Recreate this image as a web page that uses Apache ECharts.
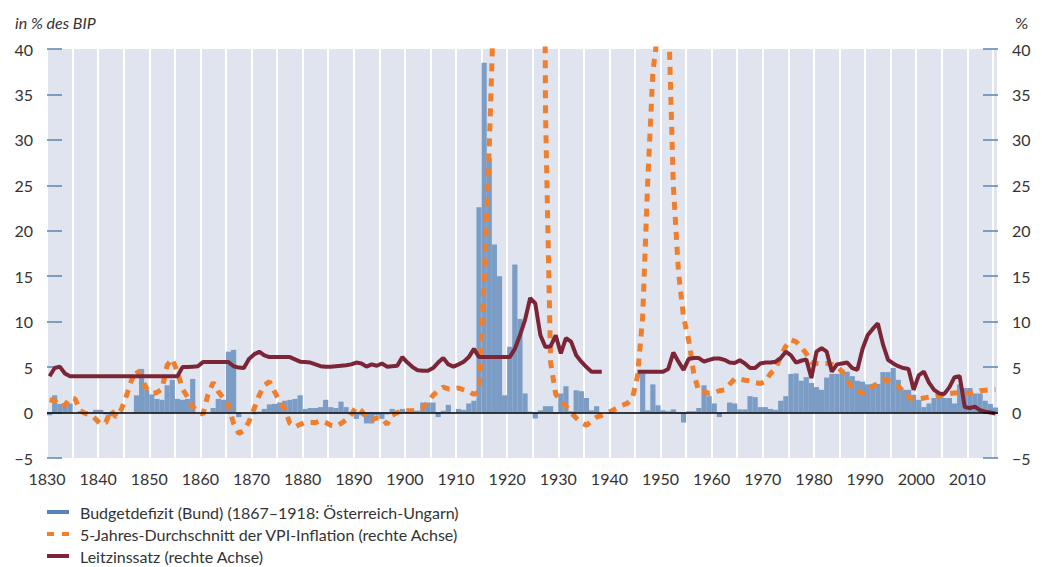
<!DOCTYPE html>
<html>
<head>
<meta charset="utf-8">
<script src="https://cdn.jsdelivr.net/npm/echarts@6/dist/echarts.min.js"></script>
<style>
  html, body { margin: 0; padding: 0; background: #fff; }
  #chart { width: 1042px; height: 567px; }
</style>
</head>
<body>
<div id="chart"></div>
<script>
// Jahre 1830–2015
const years = [];
for (let y = 1830; y <= 2015; y++) years.push(y);

// Budgetdefizit in % des BIP (linke Achse), ein Wert pro Jahr
const deficit = [
  -0.3, 1.9, 0.95, 0.9, 1.0, 0.0, 0.15, 0.15, 0.05, 0.3,
  0.3, -0.2, -0.4, -0.2, 0.05, 0.0, 0.0, 1.9, 4.8, 2.5,
  2.0, 1.5, 1.4, 3.0, 3.6, 1.5, 1.4, 1.5, 3.7, 0.0,
  0.0, 0.0, 0.5, 1.5, 1.4, 6.7, 6.9, -0.5, 0.0, 0.0,
  -0.2, 0.1, 0.4, 0.9, 0.95, 1.1, 1.3, 1.4, 1.5, 1.9,
  0.4, 0.5, 0.5, 0.6, 1.4, 0.6, 0.5, 1.2, 0.6, -0.25,
  -0.7, -0.3, -1.2, -1.2, -0.3, -0.7, -0.2, 0.4, 0.2, 0.4,
  0.1, 0.2, 0.2, 1.1, 1.1, 1.1, -0.5, 0.2, 0.85, 0.0,
  0.4, 0.3, 1.0, 1.3, 22.6, 38.5, 28.0, 18.5, 15.0, 1.9,
  7.25, 16.3, 10.3, 2.1, 0.1, -0.65, 0.25, 0.7, 0.7, -0.1,
  2.1, 2.9, 0.15, 2.45, 2.35, 1.6, 0.25, 0.7, null, null,
  null, null, null, null, null, null, 4.3, 0.25, 3.1, 0.8,
  0.25, 0.15, 0.35, -0.1, -1.1, 0.15, 0.15, 0.5, 3.0, 1.8,
  1.0, -0.5, 0.05, 1.1, 1.0, 0.35, 0.35, 1.8, 1.7, 0.6,
  0.6, 0.4, 0.3, 1.3, 1.8, 4.25, 4.3, 3.5, 3.9, 3.25,
  2.8, 2.5, 3.85, 4.25, 4.25, 4.75, 4.5, 4.0, 3.5, 3.4,
  3.1, 3.15, 3.15, 4.45, 4.45, 4.9, 3.6, 2.5, 2.5, 1.95,
  1.4, 0.6, 1.0, 1.6, 1.95, 1.6, 1.6, 1.0, 3.1, 2.7,
  2.7, 2.1, 2.1, 1.3, 0.95, 0.55
];

// 5-Jahres-Durchschnitt der VPI-Inflation in % (rechte Achse)
const inflation = [
  1.4, 1.3, 0.7, 0.8, 1.6, 1.5, 0.2, -0.1, -0.25, -0.7,
  -1.3, -1.1, 0.3, -0.5, 0.3, 1.8, 3.5, 4.7, 3.8, 2.6,
  2.1, 2.2, 2.6, 5.2, 5.9, 4.5, 2.6, 1.7, 0.6, 0.2,
  -0.2, 2.0, 3.3, 2.3, 1.6, 0.8, -1.2, -2.3, -2.0, -1.0,
  0.4, 1.9, 3.0, 3.4, 2.3, 1.2, 0.4, -1.2, -1.6, -1.3,
  -1.1, -1.1, -1.1, -0.9, -1.1, -1.4, -1.5, -1.2, -0.8, -0.2,
  0.6, 0.2, -0.6, -0.8, -0.6, -0.6, -1.3, -0.3, 0.0, 0.2,
  0.2, 0.2, 0.3, 0.5, 1.1, 1.9, 2.4, 2.8, 2.6, 2.6,
  2.7, 2.5, 2.3, 2.0, 2.3, 14.5, 29.2, 47, 150, 400,
  700, 1000, 1200, 900, 600, 350, 150, 33, 5.5, 2.0,
  1.3, 0.7, 0.0, -0.6, -1.1, -1.4, -0.9, -0.5, -0.3, 0.0,
  0.2, 0.5, 0.8, 1.0, 1.6, 4.0, 10.5, 25.5, 37.5, 42,
  90, 45, 25, 15.5, 10.5, 8.0, 4.3, 2.3, 2.3, 2.1,
  2.2, 2.4, 2.5, 3.1, 3.7, 3.7, 3.55, 3.5, 3.3, 3.2,
  3.4, 4.3, 4.8, 6.2, 7.3, 8.0, 7.8, 7.2, 6.5, 5.5,
  5.4, 5.4, 5.4, 5.3, 5.1, 4.5, 3.6, 2.6, 2.4, 2.1,
  2.4, 2.9, 3.2, 3.6, 3.5, 3.3, 2.9, 2.3, 1.7, 1.45,
  1.5, 1.6, 1.7, 1.75, 1.85, 1.9, 2.1, 2.15, 2.2, 2.2,
  2.1, 2.2, 2.4, 2.45, 2.5, 2.55
];

// Leitzinssatz in % (rechte Achse)
const rate = [
  4.0, 4.9, 5.05, 4.3, 4.0, 4.0, 4.0, 4.0, 4.0, 4.0,
  4.0, 4.0, 4.0, 4.0, 4.0, 4.0, 4.0, 4.0, 4.0, 4.0,
  4.0, 4.0, 4.0, 4.0, 4.0, 4.0, 5.0, 5.0, 5.05, 5.1,
  5.55, 5.55, 5.55, 5.55, 5.55, 5.55, 5.1, 4.95, 4.9, 5.9,
  6.4, 6.7, 6.3, 6.1, 6.1, 6.1, 6.1, 6.1, 5.85, 5.6,
  5.55, 5.5, 5.3, 5.1, 5.05, 5.05, 5.1, 5.15, 5.2, 5.3,
  5.5, 5.4, 5.05, 5.3, 5.15, 5.4, 5.05, 5.1, 5.15, 6.1,
  5.5, 5.0, 4.65, 4.6, 4.6, 4.9, 5.5, 6.0, 5.3, 5.05,
  5.3, 5.6, 6.1, 7.0, 6.1, 6.1, 6.1, 6.1, 6.1, 6.1,
  6.1, 7.0, 8.5, 10.2, 12.6, 12.0, 8.5, 7.2, 7.3, 8.5,
  6.5, 8.2, 7.8, 6.3, 5.6, 5.0, 4.5, 4.5, 4.5, null,
  null, null, null, null, null, 4.5, 4.5, 4.5, 4.5, 4.5,
  4.5, 4.8, 6.6, 5.6, 4.7, 5.9, 6.0, 6.0, 5.6, 5.8,
  5.95, 5.95, 5.8, 5.5, 5.45, 5.75, 5.4, 4.9, 4.9, 5.4,
  5.5, 5.5, 5.6, 6.0, 6.7, 6.3, 5.5, 5.7, 5.85, 3.8,
  6.7, 7.1, 6.7, 4.5, 5.3, 5.4, 5.5, 4.9, 4.7, 7.0,
  8.5, 9.2, 9.8, 7.5, 5.8, 5.4, 5.1, 4.9, 4.8, 2.5,
  4.1, 4.5, 3.3, 2.5, 2.1, 2.05, 2.8, 3.9, 4.0, 0.6,
  0.5, 0.65, 0.25, 0.1, 0.0, -0.1
];

const names = [
  "Budgetdefizit (Bund) (1867–1918: Österreich-Ungarn)",
  "5-Jahres-Durchschnitt der VPI-Inflation (rechte Achse)",
  "Leitzinssatz (rechte Achse)"
];

// Werte in der Mitte des Jahres platzieren
function pairs(values) {
  return years.map(function (y, i) {
    return [y + 0.5, values[i] === null ? "-" : values[i]];
  });
}

const font = "Lato, 'Open Sans', sans-serif";
const minus = function (v) { return String(v).replace("-", "\u2212"); };

const myChart = echarts.init(document.getElementById("chart"), null, { renderer: "svg" });

const option = {
  animation: false,
  textStyle: { fontFamily: font },
  title: [
    {
      text: "in % des BIP",
      left: 10, top: 9,
      textStyle: { fontFamily: font, fontStyle: "italic", fontWeight: "normal", fontSize: 16, color: "#333" }
    },
    {
      text: "%",
      right: 9, top: 9,
      textStyle: { fontFamily: font, fontWeight: "normal", fontSize: 16, color: "#333" }
    }
  ],
  grid: {
    left: 47, right: 44, top: 49, bottom: 109,
    show: true, backgroundColor: "#dfe4ef", borderWidth: 0
  },
  legend: {
    orient: "vertical",
    left: 47, top: 503,
    padding: 0,
    itemWidth: 22, itemHeight: 4, itemGap: 4,
    textStyle: { fontFamily: font, fontSize: 16, color: "#333", lineHeight: 18, padding: [0, 0, 0, 6] },
    itemStyle: { borderWidth: 0 },
    data: [
      { name: names[0], icon: "rect", itemStyle: { color: "#5585b8" } },
      { name: names[1], icon: "path://M0,0h7v4h-7zM15,0h7v4h-7z", itemStyle: { color: "#f07f2d" } },
      { name: names[2], icon: "rect", itemStyle: { color: "#7b2536" } }
    ]
  },
  xAxis: {
    type: "value",
    min: 1830, max: 2016, interval: 5,
    axisLine: { show: false },
    axisTick: { show: false },
    axisLabel: {
      fontFamily: font, fontSize: 16, color: "#333", margin: 12,
      formatter: function (v) { return v % 10 === 0 ? String(v) : ""; }
    },
    splitLine: { show: true, lineStyle: { color: "#ffffff", width: 2 } }
  },
  yAxis: [
    {
      type: "value", min: -5, max: 40, interval: 5,
      axisLine: { show: false },
      axisTick: { show: true, inside: true, length: 15, lineStyle: { color: "#5b86b5", width: 1.5 } },
      axisLabel: { fontFamily: font, fontSize: 16, color: "#333", margin: 14, formatter: minus },
      splitLine: { show: false }
    },
    {
      type: "value", min: -5, max: 40, interval: 5, position: "right",
      axisLine: { show: false },
      axisTick: { show: true, inside: true, length: 15, lineStyle: { color: "#5b86b5", width: 1.5 } },
      axisLabel: { fontFamily: font, fontSize: 16, color: "#333", margin: 14, formatter: minus },
      splitLine: { show: false }
    }
  ],
  series: [
    {
      name: names[0],
      type: "bar",
      yAxisIndex: 0,
      barWidth: 5.2,
      itemStyle: { color: "#7b9dc5" },
      data: pairs(deficit),
      markLine: {
        silent: true,
        symbol: "none",
        label: { show: false },
        lineStyle: { color: "#000", width: 1.5, type: "solid" },
        data: [{ yAxis: 0 }]
      }
    },
    {
      name: names[1],
      type: "line",
      yAxisIndex: 1,
      showSymbol: false,
      connectNulls: false,
      itemStyle: { color: "#f07f2d" },
      lineStyle: { color: "#f07f2d", width: 5, type: [8, 7] },
      data: pairs(inflation),
      z: 3
    },
    {
      name: names[2],
      type: "line",
      yAxisIndex: 1,
      showSymbol: false,
      connectNulls: false,
      itemStyle: { color: "#7b2536" },
      lineStyle: { color: "#7b2536", width: 4 },
      data: pairs(rate),
      z: 4
    }
  ]
};

myChart.setOption(option);

window.addEventListener("resize", function () {
  myChart.resize();
});
</script>
</body>
</html>
